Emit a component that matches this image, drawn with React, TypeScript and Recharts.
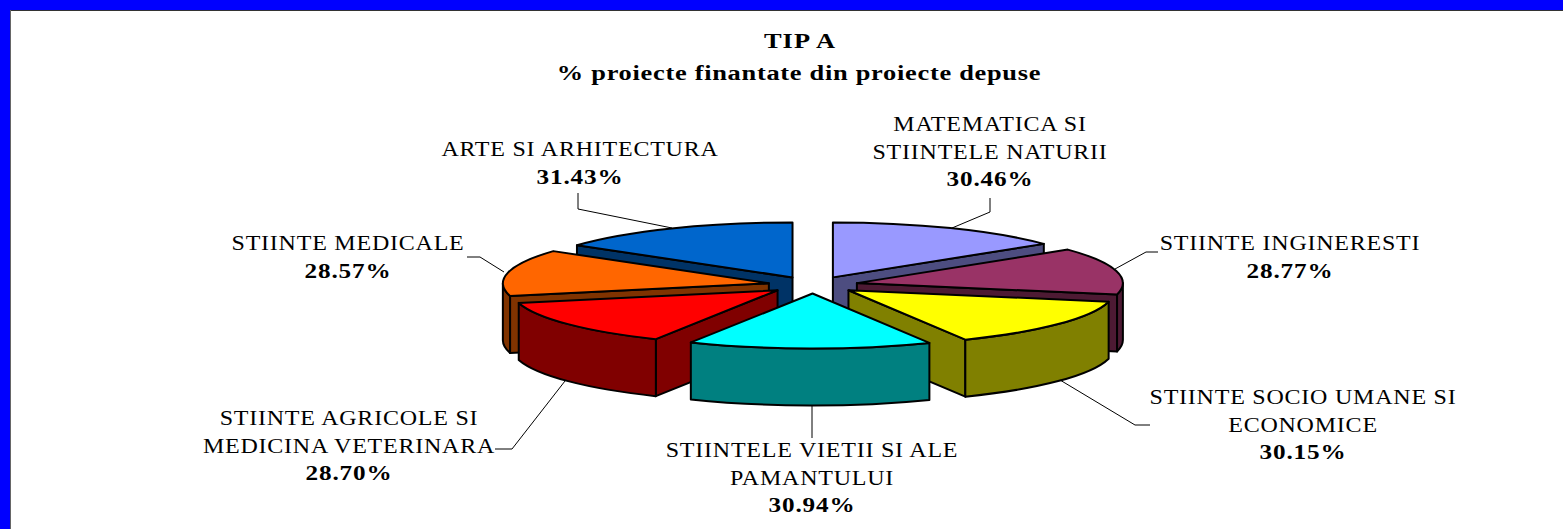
import React from "react";
import { PieChart, Pie } from "recharts";

const categories = [
  "MATEMATICA SI STIINTELE NATURII",
  "STIINTE INGINERESTI",
  "STIINTE SOCIO UMANE SI ECONOMICE",
  "STIINTELE VIETII SI ALE PAMANTULUI",
  "STIINTE AGRICOLE SI MEDICINA VETERINARA",
  "STIINTE MEDICALE",
  "ARTE SI ARHITECTURA",
];
const percents = [30.46, 28.77, 30.15, 30.94, 28.7, 28.57, 31.43];
const labelLines = [
  ["MATEMATICA SI", "STIINTELE NATURII"],
  ["STIINTE INGINERESTI"],
  ["STIINTE SOCIO UMANE SI", "ECONOMICE"],
  ["STIINTELE VIETII SI ALE", "PAMANTULUI"],
  ["STIINTE AGRICOLE SI", "MEDICINA VETERINARA"],
  ["STIINTE MEDICALE"],
  ["ARTE SI ARHITECTURA"],
];
const topColors = ["#9999FF", "#993366", "#FFFF00", "#00FFFF", "#FF0000", "#FF6600", "#0066CC"];
const sideColors = ["#4D4D80", "#4D1A33", "#808000", "#008080", "#800000", "#803300", "#003366"];

// back to front, so nearer slices cover the walls of the ones behind
const drawOrder = [0, 6, 1, 5, 2, 4, 3];

// label centre + first baseline, then the leader line
const labelAt = [
  { x: 990, y: 131, leader: "952,228 990,212 990,198" },
  { x: 1290, y: 250, leader: "1115,269 1146,252 1158,252" },
  { x: 1303, y: 404, leader: "1060,380 1135,425 1150,425" },
  { x: 812, y: 457, leader: "812,406 812,438" },
  { x: 349, y: 425, leader: "565,381 512,449 495,449" },
  { x: 348, y: 250, leader: "504,272 480,257 467,257" },
  { x: 580, y: 156, leader: "672,228 578,209 578,193" },
];

const data = categories.map((name, i) => ({ name, value: percents[i], fill: topColors[i] }));

const RY = 55;
const DEPTH = 57;
const EXPLODE_X = 45;
const EXPLODE_Y = 8.5;
const LINE_H = 27.5;
const STRETCH = 1.2;
const SERIF = "'Liberation Serif', serif";

function Slice3D(props: any) {
  const { cx, cy, outerRadius: r, startAngle, endAngle, name } = props;
  const idx = categories.indexOf(name);
  if (idx !== props.layer) return null;
  const a = 90 - Math.max(startAngle, endAngle);
  const b = 90 - Math.min(startAngle, endAngle);
  const rad = (d: number) => (d * Math.PI) / 180;
  const mid = rad((a + b) / 2);
  const ox = cx + EXPLODE_X * Math.sin(mid);
  const oy = cy - EXPLODE_Y * Math.cos(mid);
  const px = (d: number) => ox + r * Math.sin(rad(d));
  const py = (d: number) => oy - RY * Math.cos(rad(d));
  const side = sideColors[idx];
  const wall = { fill: side, stroke: "#000", strokeWidth: 2, strokeLinejoin: "round" as const };

  const edge = (d: number) =>
    `M${ox},${oy} L${px(d)},${py(d)} L${px(d)},${py(d) + DEPTH} L${ox},${oy + DEPTH} Z`;

  // front part of the rim only
  const fa = Math.max(a, 90);
  const fb = Math.min(b, 270);
  const rim =
    fb > fa
      ? `M${px(fa)},${py(fa)} A${r},${RY} 0 0 1 ${px(fb)},${py(fb)} L${px(fb)},${py(fb) + DEPTH} A${r},${RY} 0 0 0 ${px(fa)},${py(fa) + DEPTH} Z`
      : null;

  const large = b - a > 180 ? 1 : 0;
  const top = `M${ox},${oy} L${px(a)},${py(a)} A${r},${RY} 0 ${large} 1 ${px(b)},${py(b)} Z`;

  return (
    <g>
      {Math.sin(rad(a)) < 0 && <path d={edge(a)} {...wall} />}
      {Math.sin(rad(b)) > 0 && <path d={edge(b)} {...wall} />}
      {rim && <path d={rim} {...wall} />}
      <path d={top} fill={topColors[idx]} stroke="#000" strokeWidth={2} strokeLinejoin="round" />
    </g>
  );
}

function Wide({ x, y, size, bold, spacing, children }: any) {
  // the source text is stretched sideways
  return (
    <text
      transform={`translate(${x},${y}) scale(${STRETCH},1)`}
      textAnchor="middle"
      fontFamily={SERIF}
      fontSize={size}
      fontWeight={bold ? "bold" : "normal"}
      letterSpacing={spacing}
      fill="#000"
    >
      {children}
    </text>
  );
}

function SliceLabel(props: any) {
  const idx = categories.indexOf(props.name);
  const at = labelAt[idx];
  const lines = labelLines[idx];
  return (
    <g>
      <polyline points={at.leader} fill="none" stroke="#000" strokeWidth={1} />
      {lines.map((line, i) => (
        <Wide key={line} x={at.x} y={at.y + i * LINE_H} size={20} spacing={0.65}>
          {line}
        </Wide>
      ))}
      <Wide x={at.x} y={at.y + lines.length * LINE_H} size={21} bold spacing={0.7}>
        {percents[idx].toFixed(2)}%
      </Wide>
    </g>
  );
}

export default function App() {
  return (
    <div style={{ position: "absolute", left: 0, top: 0, width: 1563, height: 529, background: "#fff", overflow: "hidden" }}>
      <div style={{ position: "absolute", left: 0, top: 0, width: 1563, height: 10, background: "#0000FF" }} />
      <div style={{ position: "absolute", left: 0, top: 0, width: 10, height: 529, background: "#0000FF" }} />
      <div style={{ position: "absolute", left: 10, top: 10, width: 1553, height: 1, background: "#333" }} />
      <div style={{ position: "absolute", left: 10, top: 10, width: 1, height: 519, background: "#666" }} />
      <div style={{ position: "absolute", left: 0, top: 0 }}>
        <PieChart width={1563} height={529} margin={{ top: 0, right: 0, bottom: 0, left: 0 }}>
          <Wide x={800} y={48} size={22} bold spacing={0.9}>
            TIP A
          </Wide>
          <Wide x={799} y={80} size={22} bold spacing={0.6}>
            % proiecte finantate din proiecte depuse
          </Wide>
          {drawOrder.map((layer, n) => (
            <Pie
              key={layer}
              data={data}
              dataKey="value"
              nameKey="name"
              cx={813}
              cy={285}
              outerRadius={266}
              innerRadius={0}
              startAngle={90}
              endAngle={-270}
              stroke="none"
              isAnimationActive={false}
              shape={(p: any) => <Slice3D {...p} layer={layer} />}
              label={n === drawOrder.length - 1 ? (p: any) => <SliceLabel {...p} /> : false}
              labelLine={false}
            />
          ))}
        </PieChart>
      </div>
    </div>
  );
}
